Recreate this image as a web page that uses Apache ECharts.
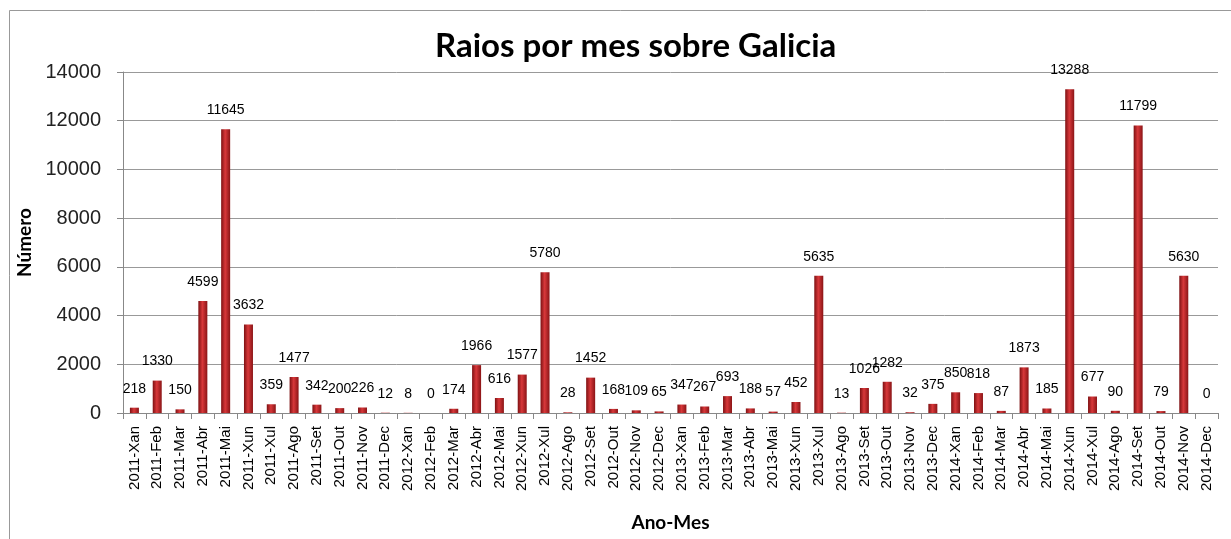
<!DOCTYPE html>
<html>
<head>
<meta charset="utf-8">
<script src="https://cdn.jsdelivr.net/npm/echarts@6/dist/echarts.min.js"></script>
<style>
html, body { margin: 0; padding: 0; background: #fff; }
#chart { width: 1231px; height: 539px; }
</style>
</head>
<body>
<div id="chart"></div>
<script>
// meses
var years = ['2011', '2012', '2013', '2014'];
var months = ['Xan', 'Feb', 'Mar', 'Abr', 'Mai', 'Xun', 'Xul', 'Ago', 'Set', 'Out', 'Nov', 'Dec'];
var categories = [];
years.forEach(function (y) {
    months.forEach(function (m) { categories.push(y + '-' + m); });
});

// raios por mes
var raios2011 = [218, 1330, 150, 4599, 11645, 3632, 359, 1477, 342, 200, 226, 12];
var raios2012 = [8, 0, 174, 1966, 616, 1577, 5780, 28, 1452, 168, 109, 65];
var raios2013 = [347, 267, 693, 188, 57, 452, 5635, 13, 1026, 1282, 32, 375];
var raios2014 = [850, 818, 87, 1873, 185, 13288, 677, 90, 11799, 79, 5630, 0];
var raios = raios2011.concat(raios2012, raios2013, raios2014);

var yTicks = [0, 2000, 4000, 6000, 8000, 10000, 12000, 14000];

var myChart = echarts.init(document.getElementById('chart'));

var option = {
    backgroundColor: '#fff',
    animation: false,
    title: {
        text: 'Raios por mes sobre Galicia',
        left: 430,
        top: 25,
        textStyle: { fontFamily: 'Lato', fontWeight: 'bold', fontSize: 33, color: '#000' }
    },
    graphic: [{
        type: 'rect',
        shape: { x: 9.5, y: 10.5, width: 1240, height: 560 },
        style: { fill: 'none', stroke: '#999', lineWidth: 1 },
        silent: true
    }],
    grid: { left: 123, right: 13, top: 72, bottom: 126 },
    xAxis: {
        type: 'category',
        data: categories,
        name: 'Ano-Mes',
        nameLocation: 'middle',
        nameGap: 100,
        nameTextStyle: { fontFamily: 'Lato', fontWeight: 'bold', fontSize: 19, color: '#000' },
        axisLine: { lineStyle: { color: '#888' } },
        axisTick: { show: true, length: 6, lineStyle: { color: '#888' } },
        axisLabel: { rotate: 90, interval: 0, fontFamily: 'Liberation Sans', fontSize: 15, color: '#000', margin: 13 }
    },
    yAxis: {
        type: 'value',
        min: yTicks[0],
        max: yTicks[yTicks.length - 1],
        interval: 2000,
        name: 'Número',
        nameLocation: 'middle',
        nameGap: 87,
        nameTextStyle: { fontFamily: 'Lato', fontWeight: 'bold', fontSize: 19, color: '#000' },
        axisLine: { show: true, lineStyle: { color: '#888' } },
        axisTick: { show: true, length: 6, lineStyle: { color: '#888' } },
        axisLabel: {
            fontFamily: 'Liberation Sans', fontSize: 20, color: '#222', margin: 22,
            formatter: function (v) { return String(v); }
        },
        splitLine: { lineStyle: { color: '#999' } }
    },
    series: [{
        name: 'Raios',
        type: 'bar',
        data: raios,
        barWidth: 9,
        itemStyle: {
            color: new echarts.graphic.LinearGradient(0, 0, 1, 0, [
                { offset: 0, color: '#7d1012' },
                { offset: 0.45, color: '#d8383a' },
                { offset: 1, color: '#8a1416' }
            ])
        },
        label: {
            show: true,
            position: 'top',
            distance: 12,
            fontFamily: 'Liberation Sans',
            fontSize: 14,
            color: '#000'
        }
    }]
};

myChart.setOption(option);
</script>
</body>
</html>
